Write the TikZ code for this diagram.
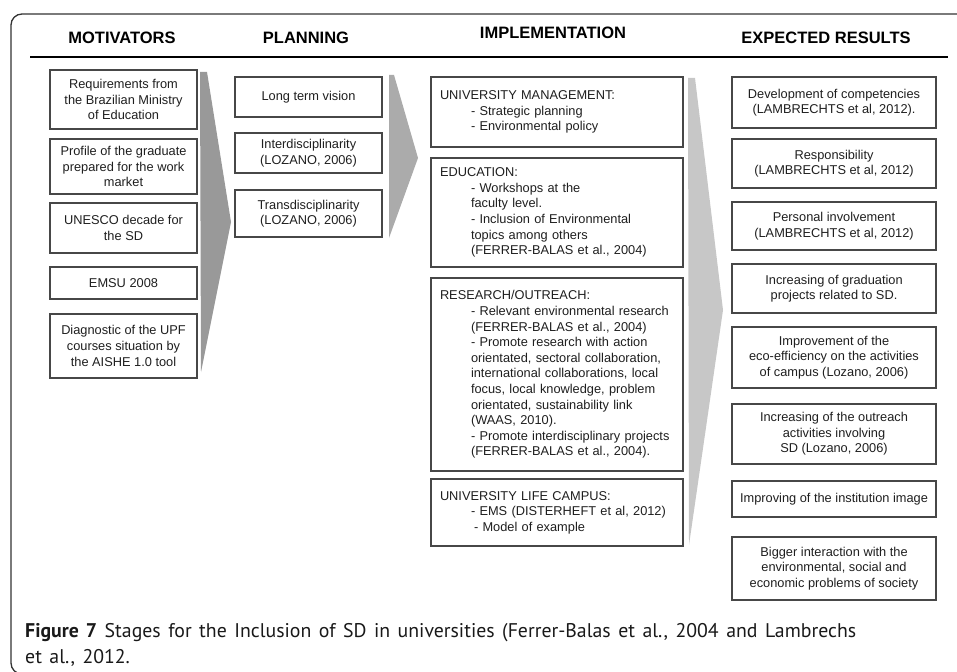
\documentclass[tikz,border=0pt]{standalone}
\usepackage{fontspec}
\setmainfont{Liberation Sans}
\newfontfamily\capfont[WordSpace=1.42]{PT Sans}
\begin{document}
\begin{tikzpicture}[x=1pt,y=-1pt,
  hdr/.style={font=\fontsize{16.5}{18}\selectfont\bfseries, text=black, inner sep=0},
  cbox/.style={draw=black!72, line width=1.1pt, fill=white, align=center, inner sep=0,
    text=black!88, font=\fontsize{12.8}{15.6}\selectfont},
  lbox/.style={draw=black!72, line width=1.1pt, fill=white, align=left, inner xsep=9pt, inner ysep=0,
    text width=#1, text=black!88, font=\fontsize{12.8}{15.6}\selectfont},
  caption/.style={font=\capfont\fontsize{19.8}{24}\selectfont, text=black!90, inner sep=0, anchor=base west}
]
\useasboundingbox (0,0) rectangle (957,671);
\clip (0,0) rectangle (957,671);

% outer frame
\draw[black!80, line width=1.3pt, rounded corners=11pt] (11,14) rectangle (975,674);

% headers
\node[hdr] (hm) at (122,37.5) {MOTIVATORS};
\node[hdr] (hp) at (306,37.5) {PLANNING};
\node[hdr] (hi) at (553,33) {IMPLEMENTATION};
\node[hdr] (hr) at (826,38) {EXPECTED RESULTS};
\draw[black, line width=2pt] (30,57) -- (948,57);

% gray chevrons
\fill[black!40] (200,72) -- (207,72) -- (231,222) -- (201,372) -- cycle;
\fill[black!33] (389,75) -- (394,75) -- (418,158) -- (389,238) -- cycle;
\fill[black!22] (688,78) -- (695,78) -- (723,310) -- (689,545) -- cycle;

% motivators
\node[cbox, minimum width=147, minimum height=59] (m1) at (123.5,99.5) {Requirements from\\the Brazilian Ministry\\of Education};
\node[cbox, minimum width=147, minimum height=55] (m2) at (123.5,166.5) {Profile of the graduate\\prepared for the work\\market};
\node[cbox, minimum width=147, minimum height=50] (m3) at (123.5,228) {UNESCO decade for\\the SD};
\node[cbox, minimum width=147, minimum height=32] (m4) at (123.5,283) {EMSU 2008};
\node[cbox, minimum width=147, minimum height=64] (m5) at (123.5,346) {Diagnostic of the UPF\\courses situation by\\the AISHE 1.0 tool};

% planning
\node[cbox, minimum width=147, minimum height=40] (p1) at (308.5,97) {Long term vision};
\node[cbox, minimum width=147, minimum height=40] (p2) at (308.5,153) {Interdisciplinarity\\(LOZANO, 2006)};
\node[cbox, minimum width=147, minimum height=47] (p3) at (308.5,213.5) {Transdisciplinarity\\(LOZANO, 2006)};

% implementation
\node[lbox=234pt, minimum height=70] (i1) at (557,112) {UNIVERSITY MANAGEMENT:\\
\hspace*{31pt}- Strategic planning\\
\hspace*{31pt}- Environmental policy};
\node[lbox=234pt, minimum height=109] (i2) at (557,212.5) {EDUCATION:\\
\hspace*{31pt}- Workshops at the\\
\hspace*{31pt}faculty level.\\
\hspace*{31pt}- Inclusion of Environmental\\
\hspace*{31pt}topics among others\\
\hspace*{31pt}(FERRER-BALAS et al., 2004)};
\node[lbox=234pt, minimum height=193] (i3) at (557,374.5) {RESEARCH/OUTREACH:\\
\hspace*{31pt}- Relevant environmental research\\
\hspace*{31pt}(FERRER-BALAS et al., 2004)\\
\hspace*{31pt}- Promote research with action\\
\hspace*{31pt}orientated, sectoral collaboration,\\
\hspace*{31pt}international collaborations, local\\
\hspace*{31pt}focus, local knowledge, problem\\
\hspace*{31pt}orientated, sustainability link\\
\hspace*{31pt}(WAAS, 2010).\\
\hspace*{31pt}- Promote interdisciplinary projects\\
\hspace*{31pt}(FERRER-BALAS et al., 2004).};
\node[lbox=234pt, minimum height=67] (i4) at (557,512.5) {UNIVERSITY LIFE CAMPUS:\\
\hspace*{31pt}- EMS (DISTERHEFT et al, 2012)\\
\hspace*{34pt}- Model of example};

% expected results
\node[cbox, minimum width=204, minimum height=51] (r1) at (834,102.5) {Development of competencies\\(LAMBRECHTS et al, 2012).};
\node[cbox, minimum width=204, minimum height=49] (r2) at (834,163.5) {Responsibility\\(LAMBRECHTS et al, 2012)};
\node[cbox, minimum width=204, minimum height=48] (r3) at (834,226) {Personal involvement\\(LAMBRECHTS et al, 2012)};
\node[cbox, minimum width=204, minimum height=49] (r4) at (834,288.5) {Increasing of graduation\\projects related to SD.};
\node[cbox, minimum width=204, minimum height=61] (r5) at (834,357.5) {Improvement of the\\eco-efficiency on the activities\\of campus (Lozano, 2006)};
\node[cbox, minimum width=204, minimum height=60] (r6) at (834,434) {Increasing of the outreach\\activities involving\\SD (Lozano, 2006)};
\node[cbox, minimum width=204, minimum height=36] (r7) at (834,499) {Improving of the institution image};
\node[cbox, minimum width=204, minimum height=63] (r8) at (834,568.5) {Bigger interaction with the\\environmental, social and\\economic problems of society};

% caption
\node[caption] (c1) at (25,637) {\textbf{Figure 7} Stages for the Inclusion of SD in universities (Ferrer-Balas et al., 2004 and Lambrechs};
\node[caption] (c2) at (25,663) {et al., 2012.};
\end{tikzpicture}
\end{document}
